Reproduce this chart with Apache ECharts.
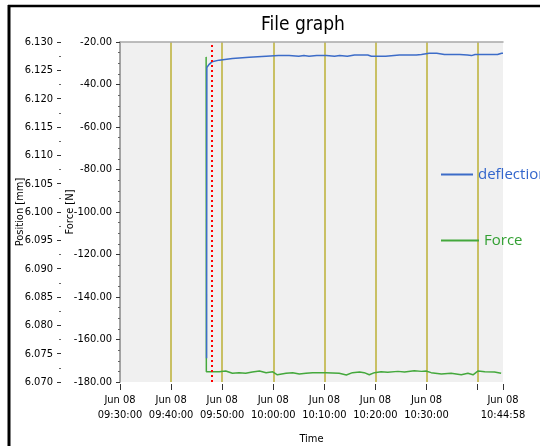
<!DOCTYPE html>
<html>
<head>
<meta charset="utf-8">
<script src="https://cdn.jsdelivr.net/npm/echarts@6/dist/echarts.min.js"></script>
<style>
html, body { margin: 0; padding: 0; background: #fff; }
#chart { width: 540px; height: 446px; }
</style>
</head>
<body>
<div id="chart"></div>
<script>
var chart = echarts.init(document.getElementById('chart'));

// time axis in minutes after Jun 08 09:30:00
var timeStart = 0;
var timeEnd = 74.9667;          // 10:44:58
var markerTime = 18;            // red dotted marker, ~09:48

// deflection -> Position [mm]
var deflTime = [16.95, 17.0, 17.4, 18.0, 19.4, 22.0, 25.3, 28.6, 31.0, 33.1,
                35.0, 36.0, 37.0, 38.5, 40.4, 42.0, 43.0, 44.5, 45.9, 48.5,
                49.2, 50.0, 52.0, 54.7, 58.0, 59.0, 60.5, 62.0, 62.9, 63.5,
                66.5, 68.0, 68.8, 69.5, 73.9, 74.7, 74.97];
var deflValue = [6.0742, 6.1255, 6.1260, 6.1265, 6.1268, 6.1271, 6.1273, 6.1275, 6.1276, 6.1276,
                 6.1275, 6.1276, 6.1275, 6.1276, 6.1276, 6.1275, 6.1276, 6.1275, 6.1277, 6.1277,
                 6.1275, 6.1275, 6.1275, 6.1277, 6.1277, 6.1278, 6.1280, 6.1280, 6.1279, 6.1278,
                 6.1278, 6.1277, 6.1276, 6.1278, 6.1278, 6.1280, 6.1280];

// Force [N]
var forceTime = [16.86, 16.9, 19.4, 20.7, 22.0, 23.3, 24.6, 25.9, 27.3, 28.6,
                 29.9, 30.8, 32.5, 33.8, 35.1, 36.4, 37.7, 40.3, 42.9, 44.3,
                 45.5, 46.9, 47.8, 48.8, 49.8, 51.1, 52.4, 54.4, 55.7, 57.6,
                 59.0, 59.9, 60.9, 62.9, 64.8, 66.8, 68.1, 69.1, 70.1, 71.4,
                 73.3, 74.6];
var forceValue = [-27.0, -175.2, -175.2, -174.8, -175.9, -175.6, -175.9, -175.3, -174.8, -175.6,
                  -175.2, -176.6, -175.9, -175.6, -176.2, -175.9, -175.6, -175.6, -175.9, -176.7,
                  -175.6, -175.3, -175.6, -176.6, -175.6, -175.2, -175.4, -175.0, -175.3, -174.7,
                  -175.0, -174.8, -175.6, -176.2, -175.9, -176.6, -175.9, -176.6, -174.8, -175.2,
                  -175.3, -175.9];

var FONT = "'DejaVu Sans Condensed', 'Liberation Sans Narrow', sans-serif";

function pad(n) { return (n < 10 ? '0' : '') + n; }
function timeLabel(v) {
    if (Math.abs(v - 70) < 0.01) return '';      // 10:40 label is not shown
    var s = Math.round(v * 60) + 9 * 3600 + 30 * 60;
    var h = Math.floor(s / 3600), m = Math.floor((s % 3600) / 60), sec = s % 60;
    return 'Jun 08\n' + pad(h) + ':' + pad(m) + ':' + pad(sec);
}
function zip(a, b) { return a.map(function (t, i) { return [t, b[i]]; }); }

var option = {
    backgroundColor: '#fff',
    animation: false,
    title: {
        text: 'File graph',
        left: 256,
        top: 11,
        textStyle: { fontSize: 19, fontWeight: 'normal', color: '#000', fontFamily: FONT }
    },
    graphic: [
        { type: 'line', shape: { x1: 9, y1: 5, x2: 9, y2: 446 }, style: { stroke: '#000', lineWidth: 3 } },
        { type: 'line', shape: { x1: 8, y1: 6, x2: 540, y2: 6 }, style: { stroke: '#000', lineWidth: 2.5 } }
    ],
    legend: [
        {
            data: ['deflection'], left: 441, top: 167, padding: 0,
            icon: 'rect', itemWidth: 32, itemHeight: 2,
            textStyle: { color: '#3366cc', fontSize: 15, fontFamily: 'Open Sans' }
        },
        {
            data: ['Force'], left: 441, top: 233, padding: 0,
            icon: 'rect', itemWidth: 38, itemHeight: 2,
            textStyle: { color: '#33a033', fontSize: 15, fontFamily: 'Open Sans' }
        }
    ],
    grid: {
        left: 120, right: 37, top: 42, bottom: 64,
        outerBoundsMode: 'none',
        show: true, backgroundColor: '#f0f0f0', borderWidth: 0
    },
    xAxis: [
        {
            type: 'value', min: timeStart, max: timeEnd, interval: 10,
            offset: 2,
            name: 'Time', nameLocation: 'middle', nameGap: 50,
            nameTextStyle: { fontFamily: FONT, fontSize: 11, color: '#000' },
            axisLine: { show: false, onZero: false },
            axisTick: { show: true, length: 6, lineStyle: { color: '#333' } },
            axisLabel: {
                formatter: timeLabel, showMaxLabel: true, showMinLabel: true,
                margin: 9, lineHeight: 15,
                fontFamily: FONT, fontSize: 11, color: '#000'
            },
            splitLine: {
                show: true, showMinLine: false, showMaxLine: false,
                lineStyle: { color: '#bcb036', width: 1.5 }
            }
        },
        {
            type: 'value', position: 'top', min: timeStart, max: timeEnd,
            axisLine: { show: true, onZero: false, lineStyle: { color: '#a8a8a8', width: 1.5 } },
            axisTick: { show: false }, axisLabel: { show: false }, splitLine: { show: false }
        }
    ],
    yAxis: [
        {
            type: 'value', position: 'left', offset: 59,
            min: 6.07, max: 6.13, interval: 0.005,
            name: 'Position [mm]', nameLocation: 'middle', nameRotate: 90, nameGap: 35,
            nameMoveOverlap: false,
            nameTextStyle: { fontFamily: FONT, fontSize: 11, color: '#000' },
            axisLine: { show: true, onZero: false, lineStyle: { color: '#ffffff', width: 1 } },
            axisTick: { show: true, length: 4, lineStyle: { color: '#333' } },
            minorTick: { show: true, splitNumber: 2, length: 2, lineStyle: { color: '#666' } },
            axisLabel: {
                formatter: function (v) { return v.toFixed(3); },
                margin: 8, fontFamily: FONT, fontSize: 11, color: '#000'
            },
            splitLine: { show: false }
        },
        {
            type: 'value', position: 'left', offset: 0,
            min: -180, max: -20, interval: 20,
            name: 'Force [N]', nameLocation: 'middle', nameRotate: 90, nameGap: 44,
            nameMoveOverlap: false,
            nameTextStyle: { fontFamily: FONT, fontSize: 11, color: '#000' },
            axisLine: { show: true, onZero: false, lineStyle: { color: '#888', width: 1.5 } },
            axisTick: { show: true, length: 4, lineStyle: { color: '#333' } },
            minorTick: { show: true, splitNumber: 4, length: 2, lineStyle: { color: '#666' } },
            axisLabel: {
                formatter: function (v) { return v.toFixed(2); },
                margin: 8, fontFamily: FONT, fontSize: 11, color: '#000'
            },
            splitLine: { show: false }
        }
    ],
    series: [
        {
            name: 'Force', type: 'line', xAxisIndex: 0, yAxisIndex: 1,
            data: zip(forceTime, forceValue),
            symbol: 'none', lineStyle: { color: '#44a83c', width: 1.5 }, itemStyle: { color: '#44a83c' },
            markLine: {
                silent: true, symbol: 'none', label: { show: false },
                lineStyle: { color: '#ff0000', type: [2, 3], width: 2 },
                data: [{ xAxis: markerTime }]
            }
        },
        {
            name: 'deflection', type: 'line', xAxisIndex: 0, yAxisIndex: 0,
            data: zip(deflTime, deflValue),
            symbol: 'none', lineStyle: { color: '#3c6cc8', width: 1.5 }, itemStyle: { color: '#3c6cc8' }
        }
    ]
};

chart.setOption(option);
</script>
</body>
</html>
